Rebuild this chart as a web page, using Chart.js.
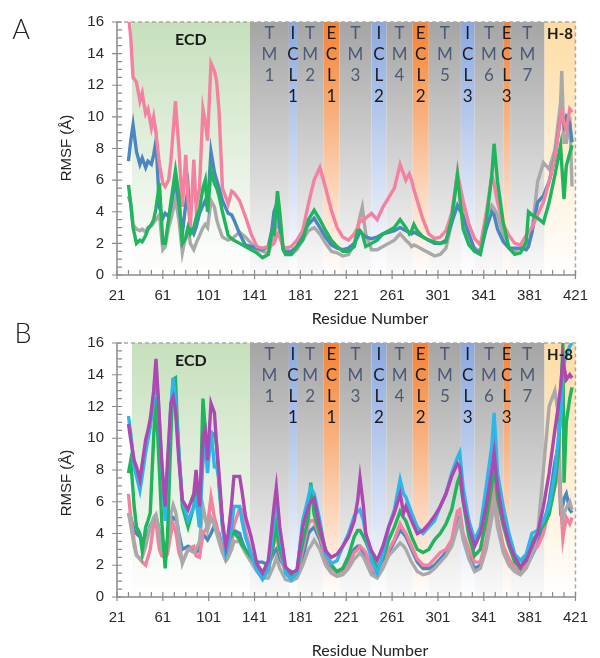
<!DOCTYPE html>
<html>
<head>
<meta charset="utf-8">
<script src="https://cdn.jsdelivr.net/npm/chart.js@4.4.1/dist/chart.umd.min.js"></script>
<style>
  body { margin: 0; background: #fff; }
  #wrap { position: relative; width: 600px; height: 658px; overflow: hidden; }
  canvas { position: absolute; left: 0; }
  #chartA { top: 0; }
  #chartB { top: 318px; }
</style>
</head>
<body>
<div id="wrap">
  <canvas id="chartA" width="600" height="330"></canvas>
  <canvas id="chartB" width="600" height="340"></canvas>
</div>
<script>
// tick labels
const xTicks = [21, 61, 101, 141, 181, 221, 261, 301, 341, 381, 421];
const yTicks = [0, 2, 4, 6, 8, 10, 12, 14, 16];

// receptor regions (residue ranges)
const regionNames = ['ECD', '1', '1', '2', '1', '3', '2', '4', '2', '5', '3', '6', '3', '7', 'H-8'];
const regionKind  = ['ECD', 'TM', 'ICL', 'TM', 'ECL', 'TM', 'ICL', 'TM', 'ECL', 'TM', 'ICL', 'TM', 'ECL', 'TM', 'H8'];
const regionStart = [34, 137, 171, 178, 201, 215, 243, 256, 279, 293, 321, 333, 358, 364, 394];
const regionEnd   = [137, 171, 178, 201, 215, 243, 256, 279, 293, 321, 333, 358, 364, 394, 421];

// panel A
const residuesA = [
  31, 33, 35, 38, 41, 43, 46, 48, 51, 53,
  55, 58, 61, 63, 66, 68, 72, 75, 78, 81,
  83, 85, 88, 90, 93, 96, 98, 100, 103, 106,
  108, 110, 113, 118, 121, 123, 128, 133, 138, 143,
  148, 153, 156, 158, 161, 163, 166, 168, 173, 178,
  183, 188, 193, 198, 203, 208, 213, 218, 223, 228,
  231, 233, 235, 238, 243, 248, 253, 258, 263, 268,
  273, 276, 278, 280, 283, 288, 293, 298, 303, 308,
  313, 318, 323, 328, 333, 338, 343, 348, 350, 353,
  358, 363, 368, 373, 378, 380, 383, 388, 393, 398,
  403, 408, 409, 411, 413, 416, 418
];
const pinkA = [
  16.5, 15.0, 12.5, 12.2, 11.0, 11.5, 10.2, 10.5, 9.3, 10.0,
  9.0, 7.0, 5.8, 5.6, 6.0, 7.2, 11.0, 8.0, 4.3, 7.6,
  4.7, 3.0, 7.3, 4.3, 5.5, 10.5, 9.7, 8.5, 13.4, 12.9,
  12.2, 10.4, 5.5, 4.5, 5.3, 5.2, 4.7, 3.7, 2.6, 1.8,
  1.7, 1.8, 1.9, 2.0, 2.6, 2.4, 1.8, 1.7, 1.8, 2.2,
  2.8, 4.5, 6.0, 6.8, 5.5, 4.1, 3.0, 2.4, 2.2, 2.6,
  3.0, 3.5, 3.4, 3.6, 3.9, 3.5, 4.3, 4.9, 5.5, 7.0,
  6.0, 6.4, 6.0, 5.4, 4.7, 3.5, 2.6, 2.3, 2.4, 2.8,
  3.9, 6.4, 4.7, 3.2, 2.3, 1.9, 3.8, 6.3, 5.8, 4.6,
  3.2, 2.5, 2.0, 1.9, 2.5, 2.7, 3.0, 3.8, 4.6, 5.9,
  7.4, 10.0, 10.3, 9.6, 9.2, 10.5, 10.3
];
const blueA = [
  7.2, 8.5, 9.5, 7.8, 7.0, 7.4, 6.8, 7.2, 7.0, 7.6,
  8.5, 4.3, 3.6, 3.9, 3.7, 4.3, 6.0, 4.5, 2.6, 4.5,
  5.5, 3.0, 2.6, 3.0, 3.9, 4.4, 4.7, 4.3, 7.8, 6.5,
  6.0, 5.5, 4.7, 3.9, 3.8, 3.5, 2.6, 1.9, 1.8, 1.7,
  1.6, 1.8, 2.8, 4.0, 4.6, 3.0, 1.7, 1.5, 1.5, 1.8,
  2.6, 3.2, 3.6, 3.0, 2.4, 1.9, 1.7, 1.6, 1.7, 2.0,
  2.4, 2.8, 2.6, 2.4, 2.3, 2.4, 2.6, 2.7, 2.8, 3.0,
  2.8, 2.7, 2.6, 2.7, 2.6, 2.4, 2.2, 2.0, 2.0, 2.2,
  3.3, 4.4, 3.7, 2.6, 1.6, 1.4, 2.9, 4.0, 3.8, 2.9,
  2.1, 1.7, 1.7, 1.7, 1.6, 1.8, 2.7, 4.6, 5.0, 5.9,
  7.5, 10.0, 10.2, 9.5, 10.0, 9.6, 8.4
];
const grayA = [
  5.0, 4.5, 3.2, 2.9, 2.8, 2.9, 2.7, 3.0, 3.1, 3.3,
  3.5, 3.8, 1.6, 1.8, 3.0, 3.5, 4.8, 3.5, 1.4, 2.5,
  3.0, 2.0, 1.6, 2.0, 2.5, 3.0, 3.2, 3.0, 4.7, 4.3,
  3.5, 3.0, 2.4, 2.2, 2.3, 2.4, 2.7, 2.4, 2.0, 1.6,
  1.5, 1.4, 2.0, 2.5, 3.5, 2.8, 1.6, 1.4, 1.3, 1.6,
  2.2, 2.8, 3.0, 2.6, 2.0, 1.5, 1.4, 1.2, 1.3, 2.0,
  3.0, 3.7, 4.3, 2.6, 1.6, 1.6, 1.8, 2.0, 2.2, 2.6,
  2.2, 2.0, 1.8, 1.9, 1.8, 1.6, 1.4, 1.2, 1.3, 1.7,
  3.3, 6.5, 3.8, 2.1, 1.7, 1.5, 3.8, 4.4, 4.2, 3.8,
  2.5, 1.7, 1.5, 1.7, 1.7, 2.0, 2.7, 5.9, 7.1, 6.7,
  7.9, 10.9, 12.9, 8.4, 8.4, 10.0, 5.6
];
const greenA = [
  5.7, 4.5, 3.0, 2.0, 2.2, 2.1, 2.5, 2.9, 3.2, 3.5,
  4.2, 5.8, 2.0, 2.0, 3.5, 4.6, 6.6, 5.0, 2.0, 2.3,
  3.0, 2.6, 3.0, 3.6, 4.2, 5.5, 6.0, 4.0, 6.6, 5.8,
  5.5, 5.0, 4.0, 2.5, 2.3, 2.2, 2.0, 1.8, 1.6, 1.4,
  1.1, 1.3, 2.7, 2.6, 5.3, 4.0, 1.6, 1.3, 1.3, 1.8,
  2.2, 3.5, 4.1, 3.5, 2.8, 2.2, 1.8, 1.5, 1.5, 1.8,
  2.8, 2.8, 2.6, 1.8, 2.0, 2.2, 2.6, 2.8, 3.0, 3.5,
  3.0, 2.6, 2.8, 3.2, 2.8, 2.4, 2.2, 2.1, 2.0, 2.1,
  3.6, 6.3, 2.9, 1.9, 1.5, 1.3, 3.3, 6.3, 8.3, 5.9,
  3.3, 1.7, 1.3, 1.4, 2.1, 4.0, 3.8, 3.6, 3.3, 4.6,
  6.3, 8.2, 7.0, 4.8, 6.9, 7.7, 8.2
];

// panel B
const residuesB = [
  31, 33, 36, 38, 41, 43, 46, 48, 50, 53,
  55, 57, 58, 60, 63, 65, 68, 70, 72, 73,
  75, 78, 83, 88, 90, 93, 96, 98, 100, 103,
  106, 108, 110, 113, 116, 118, 121, 123, 128, 130,
  133, 138, 143, 148, 153, 158, 160, 163, 168, 173,
  178, 183, 188, 190, 193, 198, 203, 208, 213, 218,
  223, 228, 231, 233, 236, 238, 243, 248, 253, 258,
  263, 268, 271, 273, 278, 283, 288, 293, 298, 303,
  308, 313, 318, 320, 323, 328, 333, 338, 343, 348,
  350, 353, 358, 363, 368, 373, 378, 383, 388, 393,
  398, 403, 406, 408, 410, 411, 413, 416, 418
];
const purpleB = [
  10.9, 9.9, 8.6, 8.2, 7.4, 8.4, 9.9, 10.5, 11.2, 13.0,
  15.0, 12.6, 11.2, 8.6, 5.7, 8.4, 12.2, 12.6, 11.8, 10.7,
  8.6, 6.1, 5.5, 6.5, 8.0, 5.7, 10.1, 10.5, 8.6, 12.2,
  11.6, 9.5, 7.8, 4.8, 3.2, 4.0, 5.9, 7.6, 7.6, 6.7,
  5.1, 3.8, 2.1, 1.5, 2.3, 5.7, 6.9, 4.4, 1.9, 1.5,
  1.7, 4.4, 5.7, 6.0, 6.2, 4.4, 2.9, 2.5, 2.7, 3.2,
  3.8, 4.8, 6.1, 7.5, 5.7, 4.0, 2.9, 2.3, 3.2, 4.4,
  5.3, 6.5, 5.3, 5.7, 4.8, 4.0, 4.2, 4.6, 5.1, 5.7,
  6.5, 7.6, 8.4, 8.2, 6.1, 4.4, 3.2, 4.0, 5.7, 8.0,
  9.1, 6.9, 4.8, 3.4, 2.5, 1.9, 2.3, 3.2, 4.0, 5.7,
  7.8, 10.5, 12.0, 13.2, 15.0, 14.5, 13.7, 14.0, 13.8
];
const cyanB = [
  11.4, 10.3, 8.2, 7.6, 6.7, 7.6, 9.1, 9.9, 10.7, 12.4,
  13.9, 12.4, 11.0, 8.4, 4.8, 8.0, 12.0, 13.8, 12.5, 11.2,
  9.1, 6.1, 4.8, 5.7, 6.1, 4.4, 8.6, 9.5, 7.8, 10.5,
  8.2, 8.2, 7.4, 4.4, 2.7, 3.2, 4.4, 5.7, 5.7, 4.8,
  3.8, 2.7, 1.7, 1.1, 1.7, 4.8, 6.5, 4.0, 1.5, 1.1,
  1.5, 4.8, 6.3, 6.9, 6.5, 4.8, 2.7, 2.1, 2.3, 3.2,
  4.0, 5.1, 5.4, 5.5, 4.8, 4.0, 2.3, 1.5, 2.7, 4.4,
  5.5, 7.4, 6.5, 6.3, 5.3, 4.4, 4.0, 4.4, 4.8, 5.7,
  6.5, 7.8, 8.8, 9.1, 6.9, 4.8, 3.6, 4.4, 6.9, 9.5,
  11.6, 7.8, 5.7, 4.0, 2.7, 2.3, 2.7, 4.0, 4.2, 4.8,
  5.7, 7.8, 10.0, 11.2, 14.0, 14.7, 15.2, 15.8, 16.0
];
const greenB = [
  7.8, 8.6, 5.7, 4.4, 4.0, 2.9, 4.4, 4.8, 5.3, 10.1,
  12.6, 9.5, 8.0, 4.8, 1.8, 3.8, 10.1, 13.7, 13.8, 12.0,
  9.1, 5.7, 4.4, 5.7, 7.4, 4.4, 12.5, 10.5, 8.5, 10.2,
  10.3, 9.5, 7.0, 4.5, 3.0, 3.5, 3.9, 4.1, 3.6, 3.3,
  3.0, 2.5, 2.0, 1.6, 1.8, 3.5, 4.5, 3.0, 1.8, 1.4,
  1.6, 3.4, 5.0, 7.2, 5.2, 4.0, 3.0, 2.0, 1.6, 1.8,
  2.6, 3.8, 4.2, 4.2, 3.8, 3.5, 2.6, 1.8, 2.4, 3.6,
  4.4, 5.4, 5.0, 4.8, 3.8, 3.0, 2.8, 3.0, 3.6, 4.0,
  4.6, 5.5, 7.2, 7.6, 6.0, 3.8, 2.6, 3.0, 4.8, 7.0,
  8.5, 6.2, 4.5, 3.2, 2.2, 1.8, 2.6, 3.5, 4.0, 4.5,
  5.2, 7.0, 9.0, 12.0, 16.0, 7.2, 11.0, 12.5, 13.2
];
const pinkB = [
  6.5, 5.0, 3.5, 2.7, 2.4, 2.2, 2.0, 2.5, 3.0, 4.6,
  4.8, 3.5, 3.0, 2.6, 2.5, 2.7, 4.0, 4.6, 4.2, 3.8,
  2.8, 2.2, 3.0, 3.2, 2.6, 2.5, 4.0, 4.2, 4.5, 6.3,
  5.0, 4.5, 3.8, 3.0, 2.3, 2.5, 3.5, 4.5, 5.6, 5.5,
  4.2, 2.8, 1.8, 1.3, 1.6, 3.5, 4.0, 2.8, 1.5, 1.3,
  1.3, 3.0, 4.6, 4.8, 4.8, 3.8, 2.6, 1.8, 1.5, 1.6,
  2.0, 2.8, 3.0, 3.2, 3.0, 2.8, 1.8, 1.4, 2.0, 3.0,
  3.6, 4.6, 4.2, 4.0, 3.2, 2.4, 2.0, 2.0, 2.4, 2.8,
  3.0, 3.6, 5.4, 5.5, 4.0, 3.0, 2.2, 2.2, 3.6, 6.0,
  7.0, 5.0, 3.2, 2.4, 1.8, 1.6, 2.0, 2.8, 3.2, 4.0,
  5.5, 7.0, 8.0, 6.0, 3.7, 4.2, 5.0, 4.6, 5.0
];
const blueB = [
  5.2, 5.0, 4.2, 4.0, 3.8, 3.6, 3.8, 4.0, 4.5, 4.8,
  5.0, 4.5, 4.0, 3.0, 3.0, 3.5, 4.5, 5.0, 4.9, 4.8,
  4.0, 3.0, 3.2, 3.0, 2.8, 3.0, 4.0, 3.8, 3.6, 4.0,
  4.5, 4.2, 4.0, 3.0, 2.6, 2.8, 3.5, 4.2, 4.0, 3.5,
  3.0, 2.6, 2.2, 2.2, 2.0, 2.8, 3.0, 2.4, 1.8, 1.6,
  1.5, 2.5, 4.0, 4.2, 4.4, 3.6, 2.4, 1.8, 1.6, 1.8,
  2.4, 3.0, 3.2, 3.2, 2.8, 2.4, 1.6, 1.4, 2.0, 2.8,
  3.5, 4.2, 4.0, 3.8, 3.0, 2.2, 1.8, 1.8, 2.0, 2.4,
  2.8, 3.4, 4.6, 5.0, 3.8, 2.6, 1.8, 2.0, 3.2, 5.5,
  6.5, 4.8, 3.0, 2.2, 1.8, 1.6, 2.0, 2.6, 3.4, 4.5,
  6.0, 8.5, 9.5, 5.5, 5.8, 6.2, 6.5, 5.5, 5.3
];
const grayB = [
  5.3, 4.5, 3.2, 2.6, 2.4, 2.5, 3.2, 3.8, 4.4, 5.0,
  5.2, 4.5, 3.8, 3.0, 2.8, 3.2, 5.2, 5.8, 5.4, 5.0,
  3.8, 2.1, 3.0, 2.8, 3.0, 3.5, 5.7, 5.0, 4.2, 5.0,
  4.5, 4.0, 3.5, 2.8, 2.3, 2.5, 3.0, 3.5, 3.5, 3.2,
  2.8, 2.2, 1.6, 1.2, 1.2, 2.0, 2.5, 1.8, 1.1, 1.0,
  1.2, 2.0, 3.0, 3.2, 3.6, 3.0, 2.0, 1.5, 1.3, 1.4,
  1.8, 2.4, 2.6, 2.8, 2.5, 2.2, 1.4, 1.2, 1.8, 2.6,
  3.0, 3.4, 3.2, 3.0, 2.2, 1.6, 1.4, 1.5, 1.8, 2.2,
  2.6, 3.2, 4.4, 4.8, 3.6, 2.4, 1.6, 1.8, 3.0, 5.0,
  6.0, 4.4, 2.8, 2.0, 1.6, 1.4, 1.8, 2.6, 4.0, 8.0,
  12.0, 13.0, 11.5, 6.5, 5.0, 5.3, 5.6, 6.0, 5.5
];

const COLORS = {
  pink: '#f4819f',
  blue: '#4a86bf',
  gray: '#a9a9a9',
  green: '#1fb55c',
  purple: '#ad48b2',
  cyan: '#2cb6ea'
};

const REGION_FILL = {
  ECD: ['rgba(198,224,188,1)', 'rgba(255,255,255,1)'],
  TM:  ['rgba(165,165,165,1)', 'rgba(250,250,250,1)'],
  ICL: ['rgba(138,168,224,1)', 'rgba(255,255,255,1)'],
  ECL: ['rgba(245,130,50,1)',  'rgba(255,255,255,1)'],
  H8:  ['rgba(253,220,162,1)', 'rgba(255,255,255,1)']
};
const KIND_LETTERS = { TM: ['T', 'M'], ICL: ['I', 'C', 'L'], ECL: ['E', 'C', 'L'] };

const regionsPlugin = {
  id: 'regions',
  beforeDraw(chart) {
    const { ctx, chartArea: { top, bottom }, scales: { x } } = chart;
    ctx.save();
    regionStart.forEach((s, i) => {
      const x0 = x.getPixelForValue(s);
      const x1 = x.getPixelForValue(regionEnd[i]);
      const c = REGION_FILL[regionKind[i]];
      const g = ctx.createLinearGradient(0, top, 0, bottom);
      g.addColorStop(0, c[0]);
      g.addColorStop(1, c[1]);
      ctx.fillStyle = g;
      ctx.fillRect(x0, top, x1 - x0, bottom - top);
    });
    ctx.restore();
  },
  afterDatasetsDraw(chart) {
    const { ctx, chartArea: { top }, scales: { x } } = chart;
    ctx.save();
    ctx.textAlign = 'center';
    ctx.textBaseline = 'middle';
    regionStart.forEach((s, i) => {
      const cx = x.getPixelForValue((s + regionEnd[i]) / 2);
      const kind = regionKind[i];
      if (kind === 'ECD') {
        ctx.font = 'bold 16px Lato';
        ctx.fillStyle = '#1a1a1a';
        ctx.fillText(regionNames[i], cx, top + 18);
      } else if (kind === 'H8') {
        ctx.font = 'bold 15px Lato';
        ctx.fillStyle = '#1a1a1a';
        ctx.fillText(regionNames[i], cx, top + 12);
      } else {
        const chars = KIND_LETTERS[kind].concat([regionNames[i]]);
        ctx.font = '17px Lato';
        ctx.fillStyle = kind === 'TM' ? '#4b5a76' : '#1a1a1a';
        chars.forEach((ch, k) => ctx.fillText(ch, cx, top + 12 + k * 21));
      }
    });
    ctx.restore();
  }
};

function axesPlugin(opts) {
  return {
    id: 'axesDecor',
    afterDraw(chart) {
      const { ctx, chartArea: { left, right, top, bottom }, scales: { x, y } } = chart;
      ctx.save();
      // dashed top / right frame
      ctx.strokeStyle = '#a8a8a8';
      ctx.lineWidth = 1.5;
      ctx.setLineDash([4, 3]);
      ctx.beginPath();
      ctx.moveTo(left, top); ctx.lineTo(right, top); ctx.lineTo(right, bottom);
      ctx.stroke();
      ctx.setLineDash([]);
      // axes
      ctx.strokeStyle = '#8a8a8a';
      ctx.beginPath();
      ctx.moveTo(left, top); ctx.lineTo(left, bottom); ctx.lineTo(right, bottom);
      ctx.stroke();
      ctx.lineWidth = 1.2;
      ctx.beginPath();
      for (let v = 0; v <= 16.001; v += 0.5) {
        const py = y.getPixelForValue(v);
        if (Math.abs(v % 2) < 1e-6) { ctx.moveTo(left - 5, py); ctx.lineTo(left + 5, py); }
        else { ctx.moveTo(left, py); ctx.lineTo(left + 5, py); }
      }
      for (let r = 21; r <= 421; r += 10) {
        const px = x.getPixelForValue(r);
        if ((r - 21) % 40 === 0) { ctx.moveTo(px, bottom - 5); ctx.lineTo(px, bottom + 4); }
        else { ctx.moveTo(px, bottom - 5); ctx.lineTo(px, bottom); }
      }
      ctx.stroke();
      // titles
      ctx.fillStyle = '#222';
      ctx.textAlign = 'center';
      ctx.textBaseline = 'middle';
      ctx.font = '16px Lato';
      ctx.fillText('Residue Number', opts.xTitleX, opts.xTitleY);
      ctx.save();
      ctx.translate(67, opts.yTitleY);
      ctx.rotate(-Math.PI / 2);
      ctx.font = '15px "Liberation Sans"';
      ctx.fillText('RMSF (\u00C5)', 0, 0);
      ctx.restore();
      ctx.font = '300 27px Lato';
      ctx.fillStyle = '#222';
      ctx.fillText(opts.letter, opts.letterX, opts.letterY);
      ctx.restore();
    }
  };
}

function makePanel(id, residues, series, opts) {
  series.forEach(s => {
    if (s.values.length !== residues.length) console.error(id, s.color, s.values.length, residues.length);
  });
  const tickFont = { family: '"Liberation Sans", Arial', size: 15 };
  return new Chart(document.getElementById(id), {
    type: 'line',
    data: {
      datasets: series.map((s, i) => ({
        data: residues.map((r, k) => ({ x: r, y: s.values[k] })),
        borderColor: s.color,
        borderWidth: 3.4,
        pointRadius: 0,
        tension: 0,
        fill: false,
        order: i
      }))
    },
    options: {
      responsive: false,
      animation: false,
      devicePixelRatio: 1,
      layout: { padding: { left: 67, right: 16, top: opts.top, bottom: opts.bottom } },
      plugins: { legend: { display: false }, tooltip: { enabled: false } },
      scales: {
        x: {
          type: 'linear', min: 21, max: 421,
          afterBuildTicks: s => { s.ticks = xTicks.map(v => ({ value: v })); },
          afterFit: s => { s.height = 30; },
          grid: { display: false, drawTicks: false },
          border: { display: false },
          ticks: { padding: 12, font: tickFont, color: '#2a2a2a', maxRotation: 0, autoSkip: false }
        },
        y: {
          min: 0, max: 16,
          afterBuildTicks: s => { s.ticks = yTicks.map(v => ({ value: v })); },
          afterFit: s => { s.width = 50; },
          grid: { display: false, drawTicks: false },
          border: { display: false },
          ticks: { padding: 13, font: tickFont, color: '#2a2a2a' }
        }
      }
    },
    plugins: [regionsPlugin, axesPlugin(opts)]
  });
}

makePanel('chartA', residuesA, [
  { color: COLORS.green, values: greenA },
  { color: COLORS.pink, values: pinkA },
  { color: COLORS.blue, values: blueA },
  { color: COLORS.gray, values: grayA }
], { top: 20, bottom: 25, xTitleX: 370, xTitleY: 319, yTitleY: 148, letter: 'A', letterX: 21, letterY: 30 });

makePanel('chartB', residuesB, [
  { color: COLORS.purple, values: purpleB },
  { color: COLORS.cyan, values: cyanB },
  { color: COLORS.green, values: greenB },
  { color: COLORS.gray, values: grayB },
  { color: COLORS.pink, values: pinkB },
  { color: COLORS.blue, values: blueB }
], { top: 25, bottom: 31, xTitleX: 370, xTitleY: 333, yTitleY: 165, letter: 'B', letterX: 23, letterY: 16 });
</script>
</body>
</html>
